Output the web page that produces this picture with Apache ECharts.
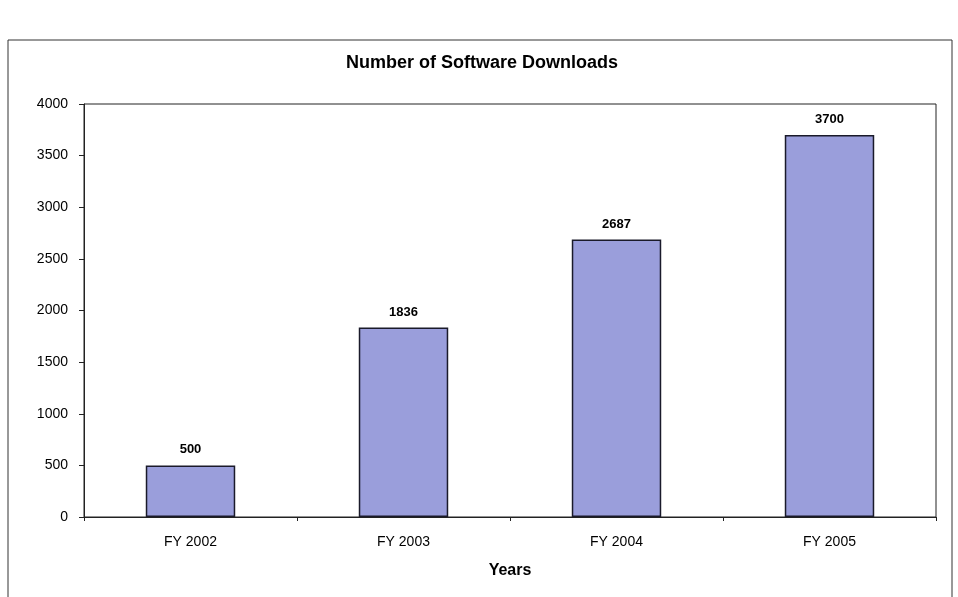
<!DOCTYPE html>
<html><head><meta charset="utf-8">
<script src="https://cdn.jsdelivr.net/npm/echarts@6/dist/echarts.min.js"></script>
<style>html,body{margin:0;padding:0;background:#fff}#c{width:958px;height:597px}</style>
</head><body><div id="c"></div>
<script>
var categories = ['FY 2002', 'FY 2003', 'FY 2004', 'FY 2005'];
var downloads = [500, 1836, 2687, 3700];
var yTicks = [0, 500, 1000, 1500, 2000, 2500, 3000, 3500, 4000];

var chart = echarts.init(document.getElementById('c'));
chart.setOption({
  animation: false,
  backgroundColor: '#fff',
  title: {
    text: 'Number of Software Downloads',
    left: 477, top: 49, textAlign: 'center',
    textStyle: {fontFamily: 'Liberation Sans, Arial', fontSize: 18, fontWeight: 'bold', color: '#000'}
  },
  graphic: [{
    type: 'rect', shape: {x: 8, y: 40, width: 944, height: 580},
    style: {fill: 'none', stroke: '#333', lineWidth: 1}, silent: true, z: -1
  }],
  grid: {left: 84, right: 22, top: 104, bottom: 80, show: true, borderColor: '#222', borderWidth: 1, backgroundColor: 'transparent'},
  xAxis: {
    type: 'category', data: categories,
    name: 'Years', nameLocation: 'middle', nameGap: 46,
    nameTextStyle: {fontFamily: 'Liberation Sans, Arial', fontSize: 16, fontWeight: 'bold', color: '#000'},
    axisLine: {lineStyle: {color: '#222'}},
    axisTick: {show: true, alignWithLabel: false, length: 4, lineStyle: {color: '#222'}},
    axisLabel: {fontFamily: 'Liberation Sans, Arial', fontSize: 14, color: '#000', margin: 18}
  },
  yAxis: {
    type: 'value', min: 0, max: 4000, interval: 500,
    axisLine: {show: true, lineStyle: {color: '#222'}},
    axisTick: {show: true, length: 5, lineStyle: {color: '#222'}},
    splitLine: {show: false},
    axisLabel: {fontFamily: 'Liberation Sans, Arial', fontSize: 14, color: '#000', margin: 16,
      formatter: function (v) { return yTicks.indexOf(v) >= 0 ? String(v) : ''; }}
  },
  series: [{
    type: 'bar', data: downloads, barWidth: '42%',
    itemStyle: {color: '#9a9edb', borderColor: '#1a1a2a', borderWidth: 1.5},
    label: {show: true, position: 'top', distance: 9, fontFamily: 'Liberation Sans, Arial', fontSize: 13, fontWeight: 'bold', color: '#000'}
  }]
});
</script></body></html>
